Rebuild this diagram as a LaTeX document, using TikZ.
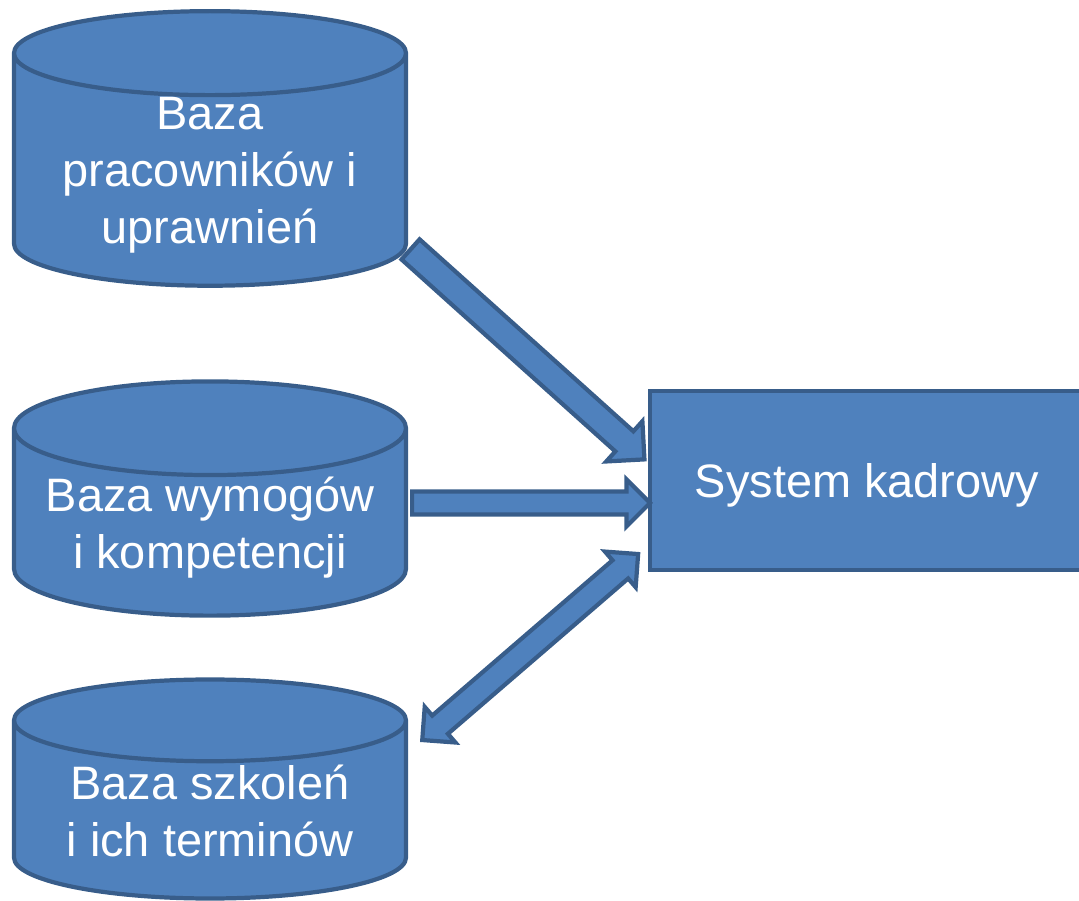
\documentclass[tikz,border=0pt]{standalone}
\usepackage{fontspec}
\setmainfont{Liberation Sans}
\usetikzlibrary{shapes.geometric,shapes.arrows,calc}

\definecolor{bazafill}{HTML}{4F81BD}
\definecolor{bazaline}{HTML}{385D8A}

\begin{document}
\begin{tikzpicture}[
    baza/.style={
        cylinder,
        shape border rotate=90,
        aspect=0.285,
        minimum width=7.84cm,
        draw=bazaline,
        fill=bazafill,
        line width=2.4pt,
        text=white,
        font=\fontsize{26.7}{32.5}\selectfont,
        align=center,
        text depth=0pt,
        inner sep=0pt
    },
    sys/.style={
        rectangle,
        minimum width=8.68cm,
        minimum height=3.58cm,
        draw=bazaline,
        fill=bazafill,
        line width=2.4pt,
        text=white,
        text depth=0pt,
        font=\fontsize{26.7}{32.5}\selectfont
    },
    strzalka/.style={
        single arrow,
        single arrow head extend=0.27cm,
        minimum width=0.996cm,
        draw=bazaline,
        fill=bazafill,
        line width=2.4pt,
        inner xsep=0pt,
        inner ysep=0.228cm
    },
    dwustrzalka/.style={
        double arrow,
        double arrow head extend=0.23cm,
        minimum width=0.856cm,
        draw=bazaline,
        fill=bazafill,
        line width=2.4pt,
        inner xsep=0pt,
        inner ysep=0.198cm
    }
]

\useasboundingbox (0,0) rectangle (21.58,18.02);

% Bazy danych
\node[baza, minimum height=5.36cm] (pracownicy) at (4.2,14.61) {Baza\\pracowników i\\uprawnień};
\node[baza, minimum height=4.52cm] (wymogi) at (4.2,7.56) {Baza wymogów\\i kompetencji};
\node[baza, minimum height=4.38cm] (szkolenia) at (4.2,1.81) {Baza szkoleń\\i ich terminów};

% System
\node[sys] (system) at (17.34,8.41) {System kadrowy};

% Koncowki strzalek
\coordinate (p1) at (8.18,13.06);
\coordinate (p2) at (8.2,7.96);
\coordinate (p3) at (8.4,3.18);
\coordinate (s1) at ($(system.west)+(-0.1,0.45)$);
\coordinate (s2) at ($(system.west)+(0,-0.45)$);
\coordinate (s3) at ($(system.west)+(-0.24,-1.51)$);

% Strzalki
\path let \p1=($(s1)-(p1)$) in
    node[strzalka, anchor=tail, rotate={atan2(\y1,\x1)}, minimum height={veclen(\x1,\y1)}] (a1) at (p1) {};
\path let \p1=($(s2)-(p2)$) in
    node[strzalka, anchor=tail, rotate={atan2(\y1,\x1)}, minimum height={veclen(\x1,\y1)}, minimum width=0.856cm, single arrow head extend=0.24cm, inner ysep=0.188cm] (a2) at (p2) {};
\path let \p1=($(s3)-(p3)$) in
    node[dwustrzalka, anchor=tip 2, rotate={atan2(\y1,\x1)}, minimum height={veclen(\x1,\y1)}] (a3) at (p3) {};

\end{tikzpicture}
\end{document}
